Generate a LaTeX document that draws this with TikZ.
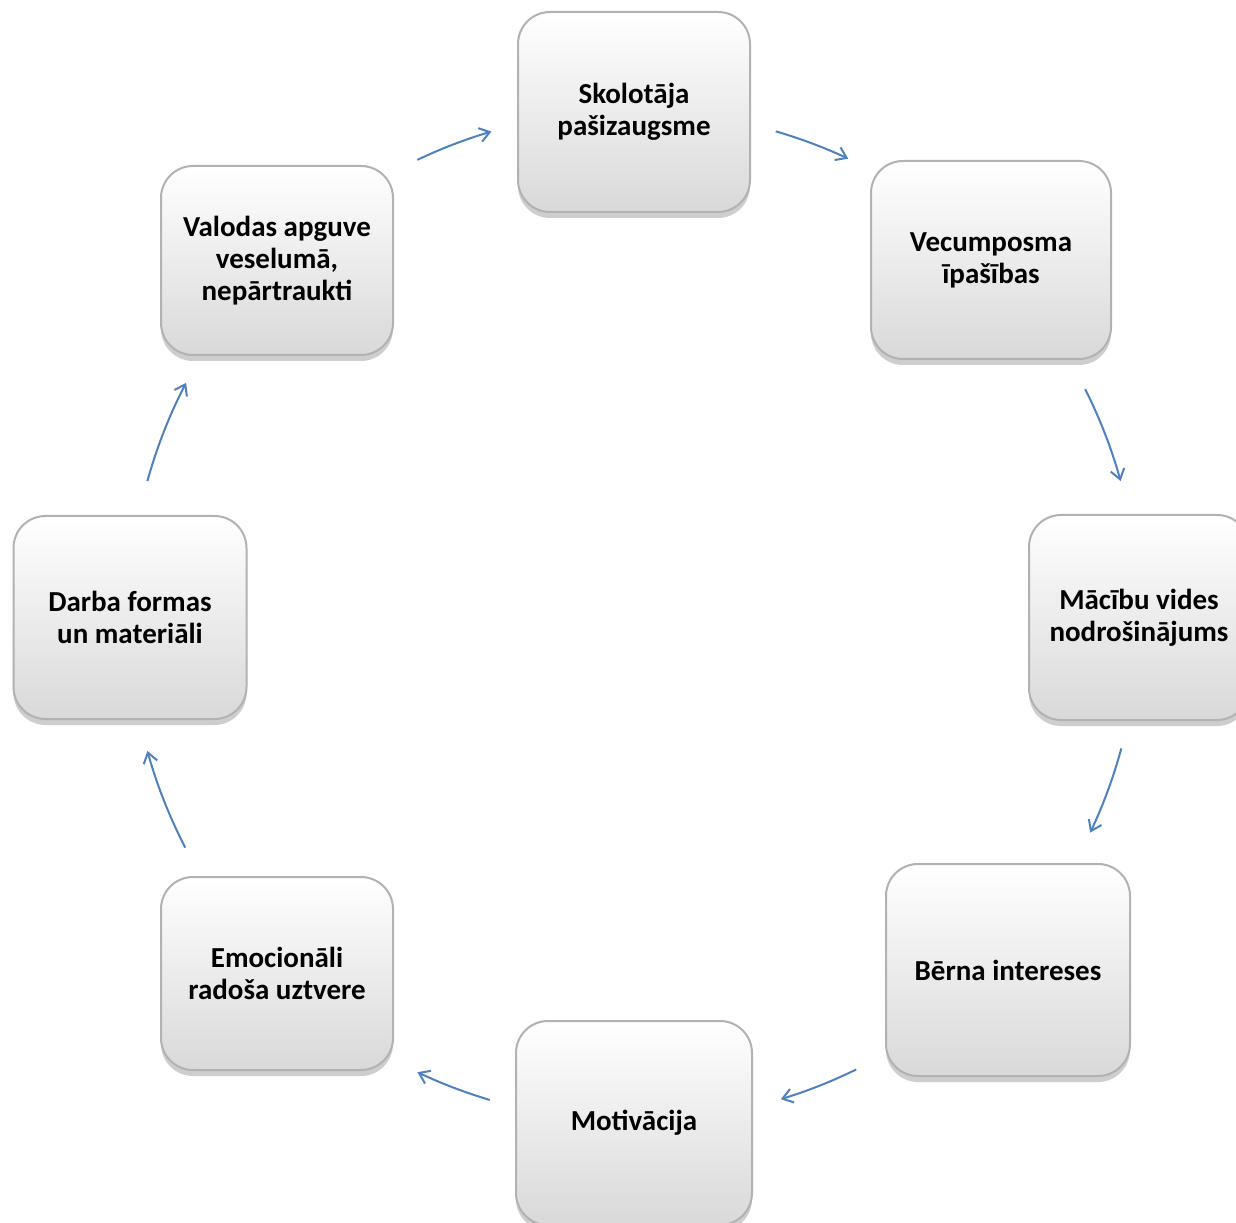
\documentclass[tikz,border=0pt]{standalone}
\usepackage{fontspec}
\setmainfont{Carlito}
\usetikzlibrary{arrows.meta,shadows}
\definecolor{arrowblue}{HTML}{4F81BD}
\tikzset{
  box/.style={rounded corners=16pt, draw=gray!60, line width=1pt,
    top color=white, bottom color=gray!30, align=center,
    font=\fontsize{14.5}{16}\selectfont\bfseries, inner sep=2pt,
    drop shadow={shadow xshift=0pt, shadow yshift=-3pt, opacity=0.5, fill=gray!75}},
  arr/.style={draw=arrowblue, line width=1pt, -{Straight Barb[length=5pt,width=7pt]}}
}
\begin{document}
\begin{tikzpicture}[x=0.5pt,y=0.5pt]
\useasboundingbox (0,0) rectangle (1236,1222);
\fill[white] (0,0) rectangle (1236,1222);
\coordinate (c) at (634,606);
\node[box, minimum width=116pt, minimum height=100pt] (n1) at (634,1110) {Skolotāja\\pašizaugsme};
\node[box, minimum width=120pt, minimum height=99pt] (n2) at (991,962) {Vecumposma\\īpašības};
\node[box, minimum width=110pt, minimum height=102.5pt] (n3) at (1139,604.5) {Mācību vides\\nodrošinājums};
\node[box, minimum width=122pt, minimum height=106pt] (n4) at (1008,252) {Bērna intereses};
\node[box, minimum width=118pt, minimum height=102pt] (n5) at (634,99) {Motivācija};
\node[box, minimum width=116pt, minimum height=96.5pt] (n6) at (277,248.5) {Emocionāli\\radoša uztvere};
\node[box, minimum width=116.5pt, minimum height=101.5pt] (n7) at (130,604.5) {Darba formas\\un materiāli};
\node[box, minimum width=116pt, minimum height=94.5pt] (n8) at (277,961.5) {Valodas apguve\\veselumā,\\nepārtraukti};
\path (c) ++(73.7:252.5pt) coordinate (a1s);
\path (c) ++(26.7:252.5pt) coordinate (a2s);
\path (c) ++(-15.2:252.5pt) coordinate (a3s);
\path (c) ++(-63.9:252.5pt) coordinate (a4s);
\path (c) ++(-106.6:252.5pt) coordinate (a5s);
\path (c) ++(-152.7:252.5pt) coordinate (a6s);
\path (c) ++(164.5:252.5pt) coordinate (a7s);
\path (c) ++(115.4:252.5pt) coordinate (a8s);
\draw[arr] (a1s) arc[start angle=73.7, end angle=64.9, radius=252.5pt];
\draw[arr] (a2s) arc[start angle=26.7, end angle=15.5, radius=252.5pt];
\draw[arr] (a3s) arc[start angle=-15.2, end angle=-25.4, radius=252.5pt];
\draw[arr] (a4s) arc[start angle=-63.9, end angle=-73.1, radius=252.5pt];
\draw[arr] (a5s) arc[start angle=-106.6, end angle=-115.4, radius=252.5pt];
\draw[arr] (a6s) arc[start angle=-152.7, end angle=-164.5, radius=252.5pt];
\draw[arr] (a7s) arc[start angle=164.5, end angle=152.5, radius=252.5pt];
\draw[arr] (a8s) arc[start angle=115.4, end angle=106.4, radius=252.5pt];
\end{tikzpicture}
\end{document}
